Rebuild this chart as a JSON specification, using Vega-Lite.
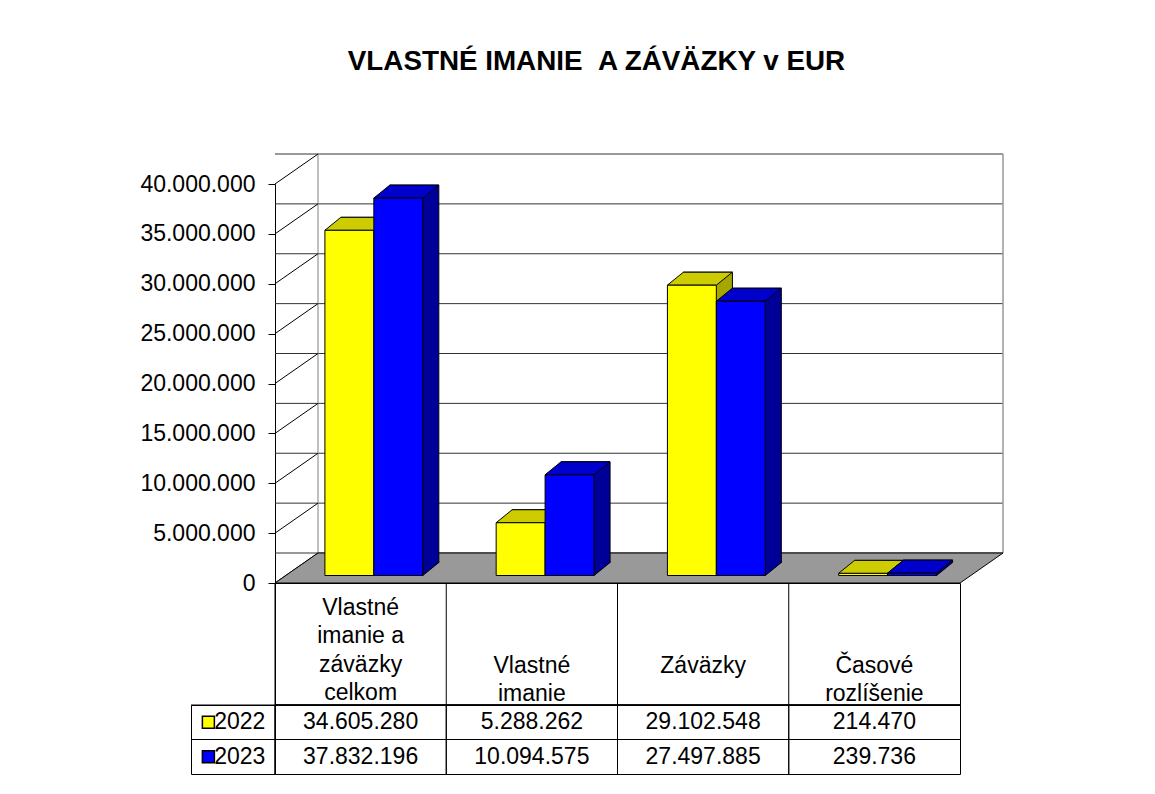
{
  "$schema": "https://vega.github.io/schema/vega-lite/v6.json",
  "background": "white",
  "padding": {"left": 139, "top": 48, "right": 5, "bottom": 5},
  "title": {
    "text": "VLASTNÉ IMANIE \u00a0A ZÁVÄZKY v EUR",
    "font": "Liberation Sans",
    "fontSize": 27.8,
    "fontWeight": "bold",
    "color": "black",
    "anchor": "middle",
    "frame": "bounds",
    "dx": 24,
    "offset": 77
  },
  "datasets": {
    "bars": [
      {"cat": "Vlastné|imanie a|záväzky|celkom", "year": "2022", "value": 34605280},
      {"cat": "Vlastné|imanie a|záväzky|celkom", "year": "2023", "value": 37832196},
      {"cat": "Vlastné|imanie", "year": "2022", "value": 5288262},
      {"cat": "Vlastné|imanie", "year": "2023", "value": 10094575},
      {"cat": "Záväzky", "year": "2022", "value": 29102548},
      {"cat": "Záväzky", "year": "2023", "value": 27497885},
      {"cat": "Časové|rozlíšenie", "year": "2022", "value": 214470},
      {"cat": "Časové|rozlíšenie", "year": "2023", "value": 239736}
    ],
    "ticks": [
      {"v": 0}, {"v": 5000000}, {"v": 10000000}, {"v": 15000000}, {"v": 20000000},
      {"v": 25000000}, {"v": 30000000}, {"v": 35000000}, {"v": 40000000}
    ],
    "cats": [
      {"cat": "Vlastné|imanie a|záväzky|celkom", "lines": 4},
      {"cat": "Vlastné|imanie", "lines": 2},
      {"cat": "Záväzky", "lines": 1},
      {"cat": "Časové|rozlíšenie", "lines": 2}
    ],
    "years": [{"year": "2022"}, {"year": "2023"}],
    "one": [{"k": 1}]
  },
  "columns": 2,
  "spacing": 0,
  "bounds": "flush",
  "align": "each",
  "resolve": {"scale": {"x": "independent", "y": "independent", "fill": "independent"}},
  "concat": [
    {
      "width": 84, "height": 399, "view": {"stroke": null},
      "data": {"name": "one"},
      "mark": {"type": "text"},
      "encoding": {"text": {"value": ""}}
    },
    {
      "width": 685, "height": 399, "view": {"stroke": null},
      "resolve": {"scale": {"fill": "independent"}},
      "layer": [
        {
          "data": {"name": "ticks"},
          "mark": {"type": "rule", "color": "#333333", "strokeWidth": 1, "xOffset": 43, "x2Offset": 43, "yOffset": -30, "y2Offset": -30},
          "encoding": {
            "y": {
              "field": "v", "type": "quantitative",
              "scale": {"domain": [0, 40000000], "nice": false, "zero": true},
              "axis": {
                "values": [0, 5000000, 10000000, 15000000, 20000000, 25000000, 30000000, 35000000, 40000000],
                "format": ",.0f", "grid": false, "title": null,
                "domainColor": "black", "domainWidth": 1, "tickColor": "black", "tickSize": 7, "tickWidth": 1,
                "labelFont": "Liberation Sans", "labelFontSize": 23, "labelColor": "black", "labelPadding": 13
              }
            }
          }
        },
        {
          "data": {"name": "one"},
          "mark": {"type": "rule", "color": "#808080", "strokeWidth": 1, "xOffset": 43, "yOffset": -30, "y2Offset": -30},
          "encoding": {
            "x": {"datum": "Vlastné|imanie a|záväzky|celkom", "type": "nominal", "bandPosition": 0,
                  "scale": {"type": "band", "domain": ["Vlastné|imanie a|záväzky|celkom", "Vlastné|imanie", "Záväzky", "Časové|rozlíšenie"], "paddingInner": 0, "paddingOuter": 0},
                  "axis": null},
            "y": {"datum": 0, "type": "quantitative"},
            "y2": {"datum": 40000000}
          }
        },
        {
          "data": {"name": "one"},
          "mark": {"type": "rule", "color": "#999999", "strokeWidth": 1.5, "xOffset": 43, "yOffset": -30, "y2Offset": -30},
          "encoding": {
            "x": {"datum": "Časové|rozlíšenie", "type": "nominal", "bandPosition": 1, "axis": null},
            "y": {"datum": 0, "type": "quantitative"},
            "y2": {"datum": 40000000}
          }
        },
        {
          "data": {"name": "ticks"},
          "mark": {"type": "rule", "color": "black", "strokeWidth": 1, "x2Offset": 43, "y2Offset": -30},
          "encoding": {
            "x": {"datum": "Vlastné|imanie a|záväzky|celkom", "type": "nominal", "bandPosition": 0, "axis": null},
            "x2": {"datum": "Vlastné|imanie a|záväzky|celkom", "bandPosition": 0},
            "y": {"field": "v", "type": "quantitative"},
            "y2": {"field": "v"}
          }
        },
        {
          "data": {"name": "one"},
          "mark": {"type": "point", "shape": "M-364,15L321,15L364,-15L-321,-15Z", "size": 4, "filled": true, "fill": "#999999", "stroke": "black", "strokeWidth": 1, "opacity": 1, "xOffset": 21.5, "yOffset": -15},
          "encoding": {
            "x": {"datum": "Záväzky", "type": "nominal", "bandPosition": 0, "axis": null},
            "y": {"datum": 0, "type": "quantitative"}
          }
        },
        {
          "data": {"name": "bars"},
          "transform": [{"filter": "datum.year === '2022'"}],
          "mark": {"type": "bar", "width": 49, "fill": "#A6A600", "stroke": "black", "strokeWidth": 1, "xOffset": 4.8, "yOffset": -20.5, "y2Offset": -20.5},
          "encoding": {
            "x": {"field": "cat", "type": "nominal", "axis": null},
            "y": {"field": "value", "type": "quantitative"}
          }
        },
        {
          "data": {"name": "bars"},
          "transform": [{"filter": "datum.year === '2023'"}],
          "mark": {"type": "bar", "width": 49, "fill": "#000099", "stroke": "black", "strokeWidth": 1, "xOffset": 53.7, "yOffset": -20.5, "y2Offset": -20.5},
          "encoding": {
            "x": {"field": "cat", "type": "nominal", "axis": null},
            "y": {"field": "value", "type": "quantitative"}
          }
        },
        {
          "data": {"name": "bars"},
          "mark": {"type": "point", "shape": "M24.5,-14L24.5,0L40.5,-13L40.5,-14", "size": 4, "filled": true, "stroke": "black", "strokeWidth": 1, "opacity": 1, "yOffset": -7.5},
          "encoding": {
            "x": {"field": "cat", "type": "nominal", "axis": null},
            "xOffset": {"field": "year", "type": "nominal", "scale": {"domain": ["2022", "2023"], "paddingInner": 0, "paddingOuter": 0.75, "align": 0.68}},
            "y": {"datum": 0, "type": "quantitative"},
            "fill": {"field": "year", "type": "nominal", "scale": {"domain": ["2022", "2023"], "range": ["#A6A600", "#000099"]}, "legend": null}
          }
        },
        {
          "data": {"name": "bars"},
          "mark": {"type": "point", "shape": "M-24.5,0L24.5,0L40.5,-13L-8.5,-13Z", "size": 4, "filled": true, "stroke": "black", "strokeWidth": 1, "opacity": 1, "yOffset": -7.5},
          "encoding": {
            "x": {"field": "cat", "type": "nominal", "axis": null},
            "xOffset": {"field": "year", "type": "nominal"},
            "y": {"field": "value", "type": "quantitative"},
            "fill": {"field": "year", "type": "nominal", "scale": {"domain": ["2022", "2023"], "range": ["#CCCC00", "#0000CC"]}, "legend": null}
          }
        },
        {
          "data": {"name": "bars"},
          "mark": {"type": "bar", "stroke": "black", "strokeWidth": 1, "yOffset": -7.5, "y2Offset": -7.5},
          "encoding": {
            "x": {"field": "cat", "type": "nominal", "axis": null},
            "xOffset": {"field": "year", "type": "nominal"},
            "y": {"field": "value", "type": "quantitative"},
            "fill": {"field": "year", "type": "nominal", "scale": {"domain": ["2022", "2023"], "range": ["#FFFF00", "#0000FF"]}, "legend": null}
          }
        }
      ]
    },
    {
      "width": 84, "height": 122, "view": {"stroke": null},
      "data": {"name": "one"},
      "mark": {"type": "text"},
      "encoding": {"text": {"value": ""}}
    },
    {
      "width": 685, "height": 122,
      "view": {"stroke": "black", "strokeWidth": 1},
      "data": {"name": "cats"},
      "layer": [
        {
          "mark": {"type": "rule", "color": "black", "strokeWidth": 1},
          "encoding": {
            "x": {"field": "cat", "type": "nominal", "bandPosition": 0,
                  "scale": {"type": "band", "domain": ["Vlastné|imanie a|záväzky|celkom", "Vlastné|imanie", "Záväzky", "Časové|rozlíšenie"], "paddingInner": 0, "paddingOuter": 0},
                  "axis": null}
          }
        },
        {
          "mark": {"type": "text", "lineBreak": "|", "fontSize": 23, "color": "black", "baseline": "middle", "lineHeight": 28.3},
          "encoding": {
            "x": {"field": "cat", "type": "nominal", "axis": null},
            "y": {"field": "lines", "type": "quantitative", "scale": {"domain": [2, 4], "range": [83, 25], "clamp": true}, "axis": null},
            "text": {"field": "cat"}
          }
        }
      ]
    },
    {
      "width": 84, "height": 69,
      "view": {"stroke": "black", "strokeWidth": 1},
      "data": {"name": "years"},
      "layer": [
        {
          "mark": {"type": "rule", "color": "black", "strokeWidth": 1},
          "encoding": {
            "y": {"field": "year", "type": "nominal", "bandPosition": 0,
                  "scale": {"type": "band", "domain": ["2022", "2023"], "paddingInner": 0, "paddingOuter": 0}, "axis": null}
          }
        },
        {
          "mark": {"type": "point", "shape": "square", "filled": true, "size": 144, "stroke": "black", "strokeWidth": 1.5, "opacity": 1},
          "encoding": {
            "x": {"datum": "swatch", "type": "nominal", "scale": {"type": "point", "domain": ["swatch", "label"], "range": [14.5, 26]}, "axis": null},
            "y": {"field": "year", "type": "nominal", "axis": null},
            "fill": {"field": "year", "type": "nominal", "scale": {"domain": ["2022", "2023"], "range": ["#FFFF00", "#0000FF"]}, "legend": null}
          }
        },
        {
          "mark": {"type": "text", "fontSize": 23, "color": "black", "align": "left"},
          "encoding": {
            "x": {"datum": "label", "type": "nominal", "axis": null},
            "y": {"field": "year", "type": "nominal", "axis": null},
            "text": {"field": "year"}
          }
        }
      ]
    },
    {
      "width": 685, "height": 69,
      "view": {"stroke": "black", "strokeWidth": 1},
      "data": {"name": "bars"},
      "layer": [
        {
          "mark": {"type": "rule", "color": "black", "strokeWidth": 1},
          "encoding": {
            "x": {"field": "cat", "type": "nominal", "bandPosition": 0,
                  "scale": {"type": "band", "domain": ["Vlastné|imanie a|záväzky|celkom", "Vlastné|imanie", "Záväzky", "Časové|rozlíšenie"], "paddingInner": 0, "paddingOuter": 0},
                  "axis": null}
          }
        },
        {
          "mark": {"type": "rule", "color": "black", "strokeWidth": 1},
          "encoding": {
            "y": {"field": "year", "type": "nominal", "bandPosition": 0,
                  "scale": {"type": "band", "domain": ["2022", "2023"], "paddingInner": 0, "paddingOuter": 0}, "axis": null}
          }
        },
        {
          "mark": {"type": "text", "fontSize": 23, "color": "black"},
          "encoding": {
            "x": {"field": "cat", "type": "nominal", "axis": null},
            "y": {"field": "year", "type": "nominal", "axis": null},
            "text": {"field": "value", "type": "quantitative", "format": ",.0f"}
          }
        }
      ]
    }
  ],
  "config": {
    "font": "Liberation Sans",
    "locale": {"number": {"decimal": ",", "thousands": ".", "grouping": [3], "currency": ["", " €"]}},
    "view": {"stroke": "black"}
  }
}
